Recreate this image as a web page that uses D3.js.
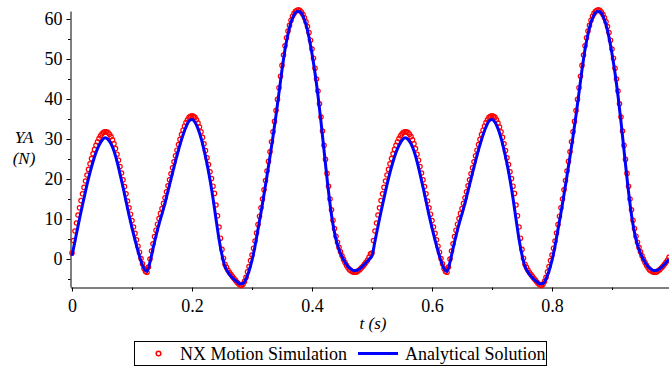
<!DOCTYPE html>
<html>
<head>
<meta charset="utf-8">
<script src="https://cdn.jsdelivr.net/npm/d3@7"></script>
<style>
  html, body { margin: 0; padding: 0; background: #fff; }
  svg { display: block; }
</style>
</head>
<body>
<svg id="chart" width="669" height="369"></svg>
<script>
// Sampling steps of the two series (s)
const simulationStep = 0.0025;
const analyticalStep = 0.005;

// YA (N) from the NX Motion run, one value every 0.0025 s starting at t = 0
const simulationYA = [
  1.5, 4.6, 7.0, 9.0, 11.0, 12.8, 14.6, 16.3, 17.9, 19.5,
  21.0, 22.4, 23.8, 25.1, 26.3, 27.4, 28.4, 29.3, 30.1, 30.8,
  31.3, 31.7, 31.8, 31.8, 31.6, 31.2, 30.6, 29.8, 28.8, 27.6,
  26.2, 24.7, 23.1, 21.5, 19.8, 18.1, 16.3, 14.5, 12.8, 11.2,
  9.6, 8.0, 6.4, 4.8, 3.2, 1.7, 0.1, -1.2, -2.4, -3.1,
  -3.3, -2.0, 0.0, 2.0, 3.8, 5.6, 7.2, 8.7, 10.1, 11.4,
  12.6, 13.9, 15.3, 16.8, 18.3, 19.8, 21.3, 22.8, 24.3, 25.8,
  27.2, 28.6, 29.9, 31.1, 32.2, 33.2, 34.1, 34.8, 35.4, 35.7,
  35.8, 35.7, 35.4, 34.8, 34.0, 33.0, 31.8, 30.4, 28.8, 27.1,
  25.3, 23.6, 21.8, 20.1, 18.2, 16.4, 13.5, 10.8, 8.0, 5.2,
  2.4, 0.2, -1.3, -2.1, -2.8, -3.4, -3.9, -4.4, -4.9, -5.3,
  -5.8, -6.2, -6.5, -6.6, -6.3, -5.6, -4.6, -3.2, -1.9, -0.4,
  1.0, 2.7, 4.5, 6.5, 8.6, 10.7, 12.8, 15.0, 17.3, 19.6,
  22.0, 24.4, 26.8, 29.3, 31.8, 34.4, 37.1, 39.9, 42.8, 45.7,
  48.4, 51.0, 53.3, 55.3, 57.0, 58.4, 59.7, 60.7, 61.4, 61.9,
  62.2, 62.3, 62.1, 61.7, 61.1, 60.3, 59.3, 58.1, 56.6, 54.7,
  52.5, 50.2, 47.7, 45.0, 42.0, 38.8, 35.5, 32.0, 28.4, 24.9,
  21.4, 18.2, 15.0, 12.3, 9.7, 7.6, 5.7, 4.2, 2.9, 1.8,
  0.8, -0.1, -0.9, -1.6, -2.2, -2.7, -3.0, -3.2, -3.3, -3.3,
  -3.2, -2.9, -2.6, -2.2, -1.8, -1.3, -0.8, -0.3, 0.4, 1.3,
  1.5, 4.6, 7.0, 9.0, 11.0, 12.8, 14.6, 16.3, 17.9, 19.5,
  21.0, 22.4, 23.8, 25.1, 26.3, 27.4, 28.4, 29.3, 30.1, 30.8,
  31.3, 31.7, 31.8, 31.8, 31.6, 31.2, 30.6, 29.8, 28.8, 27.6,
  26.2, 24.7, 23.1, 21.5, 19.8, 18.1, 16.3, 14.5, 12.8, 11.2,
  9.6, 8.0, 6.4, 4.8, 3.2, 1.7, 0.1, -1.2, -2.4, -3.1,
  -3.3, -2.0, 0.0, 2.0, 3.8, 5.6, 7.2, 8.7, 10.1, 11.4,
  12.6, 13.9, 15.3, 16.8, 18.3, 19.8, 21.3, 22.8, 24.3, 25.8,
  27.2, 28.6, 29.9, 31.1, 32.2, 33.2, 34.1, 34.8, 35.4, 35.7,
  35.8, 35.7, 35.4, 34.8, 34.0, 33.0, 31.8, 30.4, 28.8, 27.1,
  25.3, 23.6, 21.8, 20.1, 18.2, 16.4, 13.5, 10.8, 8.0, 5.2,
  2.4, 0.2, -1.3, -2.1, -2.8, -3.4, -3.9, -4.4, -4.9, -5.3,
  -5.8, -6.2, -6.5, -6.6, -6.3, -5.6, -4.6, -3.2, -1.9, -0.4,
  1.0, 2.7, 4.5, 6.5, 8.6, 10.7, 12.8, 15.0, 17.3, 19.6,
  22.0, 24.4, 26.8, 29.3, 31.8, 34.4, 37.1, 39.9, 42.8, 45.7,
  48.4, 51.0, 53.3, 55.3, 57.0, 58.4, 59.7, 60.7, 61.4, 61.9,
  62.2, 62.3, 62.1, 61.7, 61.1, 60.3, 59.3, 58.1, 56.6, 54.7,
  52.5, 50.2, 47.7, 45.0, 42.0, 38.8, 35.5, 32.0, 28.4, 24.9,
  21.4, 18.2, 15.0, 12.3, 9.7, 7.6, 5.7, 4.2, 2.9, 1.8,
  0.8, -0.1, -0.9, -1.6, -2.2, -2.7, -3.0, -3.2, -3.3, -3.3,
  -3.2, -2.9, -2.6, -2.2, -1.8, -1.3, -0.8, -0.3, 0.4
];

// YA (N) from the closed-form solution, one value every 0.005 s starting at t = 0
const analyticalYA = [
  0.8, 4.5, 8.2, 11.8, 15.2, 18.6, 21.6, 24.3, 26.6, 28.4,
  29.7, 30.3, 29.9, 28.8, 27.0, 24.4, 21.3, 18.0, 14.5, 11.0,
  7.8, 4.8, 2.0, -0.5, -2.4, -3.1, -0.8, 2.6, 5.8, 8.7,
  11.3, 14.0, 17.0, 20.0, 23.0, 25.9, 28.6, 31.0, 33.0, 34.5,
  34.9, 34.2, 32.6, 30.3, 27.3, 23.8, 19.8, 15.2, 10.0, 5.0,
  1.0, -1.9, -3.3, -4.3, -5.1, -5.7, -6.2, -6.1, -5.0, -3.0,
  -0.3, 3.2, 7.4, 11.6, 16.1, 20.8, 25.6, 30.6, 35.9, 41.6,
  47.3, 52.4, 56.2, 59.2, 61.0, 61.9, 61.8, 60.7, 58.6, 55.4,
  51.3, 46.5, 40.8, 34.3, 27.2, 20.2, 13.8, 8.6, 4.9, 2.4,
  0.6, -0.8, -1.9, -2.5, -2.9, -2.8, -2.4, -1.7, -0.9, -0.1,
  0.8, 4.5, 8.2, 11.8, 15.2, 18.6, 21.6, 24.3, 26.6, 28.4,
  29.7, 30.3, 29.9, 28.8, 27.0, 24.4, 21.3, 18.0, 14.5, 11.0,
  7.8, 4.8, 2.0, -0.5, -2.4, -3.1, -0.8, 2.6, 5.8, 8.7,
  11.3, 14.0, 17.0, 20.0, 23.0, 25.9, 28.6, 31.0, 33.0, 34.5,
  34.9, 34.2, 32.6, 30.3, 27.3, 23.8, 19.8, 15.2, 10.0, 5.0,
  1.0, -1.9, -3.3, -4.3, -5.1, -5.7, -6.2, -6.1, -5.0, -3.0,
  -0.3, 3.2, 7.4, 11.6, 16.1, 20.8, 25.6, 30.6, 35.9, 41.6,
  47.3, 52.4, 56.2, 59.2, 61.0, 61.9, 61.8, 60.7, 58.6, 55.4,
  51.3, 46.5, 40.8, 34.3, 27.2, 20.2, 13.8, 8.6, 4.9, 2.4,
  0.6, -0.8, -1.9, -2.5, -2.9, -2.8, -2.4, -1.7, -0.9, -0.1
];

// Axis ticks
const xMajorTicks = [0, 0.2, 0.4, 0.6, 0.8];
const xMinorTicks = [0.1, 0.3, 0.5, 0.7, 0.9];
const yMajorTicks = [0, 10, 20, 30, 40, 50, 60];
const yMinorTicks = [-5, 5, 15, 25, 35, 45, 55];

// Titles and legend entries
const yTitleLines = ["YA", "(N)"];
const xTitle = "t (s)";
const legendLabels = ["NX Motion Simulation", "Analytical Solution"];

const SERIF = "Liberation Serif";
const FONT = 18;

const simPoints = simulationYA.map((v, i) => ({ t: i * simulationStep, v }));
const anaPoints = analyticalYA.map((v, i) => ({ t: i * analyticalStep, v }));

const svg = d3.select("#chart");

const x = d3.scaleLinear().domain([-0.0025, 0.995]).range([70.5, 669]);
const y = d3.scaleLinear().domain([-7, 62]).range([287, 11]);

// x axis
const gx = svg.append("g").attr("transform", `translate(0,${y(-7) + 0.5})`);
gx.call(d3.axisBottom(x).tickValues(xMajorTicks).tickSize(4).tickSizeOuter(0)
  .tickFormat(d => String(d)));
gx.append("g").call(d3.axisBottom(x).tickValues(xMinorTicks).tickSize(2.5).tickFormat(""))
  .select(".domain").remove();
gx.selectAll("text").attr("y", 24.5).attr("dy", 0);

// y axis
const gy = svg.append("g").attr("transform", `translate(${x(-0.0025)},0)`);
gy.call(d3.axisLeft(y).tickValues(yMajorTicks).tickSize(4).tickPadding(4).tickSizeOuter(0));
gy.append("g").call(d3.axisLeft(y).tickValues(yMinorTicks).tickSize(2.5).tickFormat(""))
  .select(".domain").remove();

// serif type on the axes
gx.attr("font-family", SERIF).attr("font-size", FONT);
gy.attr("font-family", SERIF).attr("font-size", FONT);

svg.selectAll(".domain, .tick line").attr("stroke", "#000").attr("stroke-width", 1);
svg.selectAll(".tick text").attr("fill", "#000");

// Simulation samples as hollow red circles
svg.append("g").selectAll("circle").data(simPoints).join("circle")
  .attr("cx", d => x(d.t))
  .attr("cy", d => y(d.v))
  .attr("r", 2.2)
  .attr("fill", "none")
  .attr("stroke", "#ff0000")
  .attr("stroke-width", 1.2);

// Analytical curve
const line = d3.line().x(d => x(d.t)).y(d => y(d.v)).curve(d3.curveMonotoneX);
svg.append("path").datum(anaPoints)
  .attr("d", line)
  .attr("fill", "none")
  .attr("stroke", "#0000ff")
  .attr("stroke-width", 3)
  .attr("stroke-linejoin", "round");

// Axis titles
const titles = svg.append("g").attr("font-family", SERIF).attr("font-size", 17)
  .attr("font-style", "italic").attr("fill", "#000");
titles.selectAll("text.ytitle").data(yTitleLines).join("text")
  .attr("class", "ytitle")
  .attr("x", 24).attr("y", (d, i) => 143 + i * 21)
  .attr("text-anchor", "middle")
  .text(d => d);
titles.append("text")
  .attr("x", 373).attr("y", 329)
  .attr("text-anchor", "middle")
  .text(xTitle);

// Legend
const lg = svg.append("g").attr("font-family", SERIF).attr("font-size", FONT);
lg.append("rect").attr("x", 134.5).attr("y", 341.5).attr("width", 412).attr("height", 24)
  .attr("fill", "#fff").attr("stroke", "#000").attr("stroke-width", 1);
lg.append("circle").attr("cx", 158.5).attr("cy", 353.5).attr("r", 2.3)
  .attr("fill", "none").attr("stroke", "#ff0000").attr("stroke-width", 1.5);
lg.append("text").attr("x", 180).attr("y", 359.5).attr("fill", "#000").text(legendLabels[0]);
lg.append("line").attr("x1", 358).attr("x2", 398).attr("y1", 353.5).attr("y2", 353.5)
  .attr("stroke", "#0000ff").attr("stroke-width", 3);
lg.append("text").attr("x", 405).attr("y", 359.5).attr("fill", "#000").text(legendLabels[1]);
</script>
</body>
</html>
